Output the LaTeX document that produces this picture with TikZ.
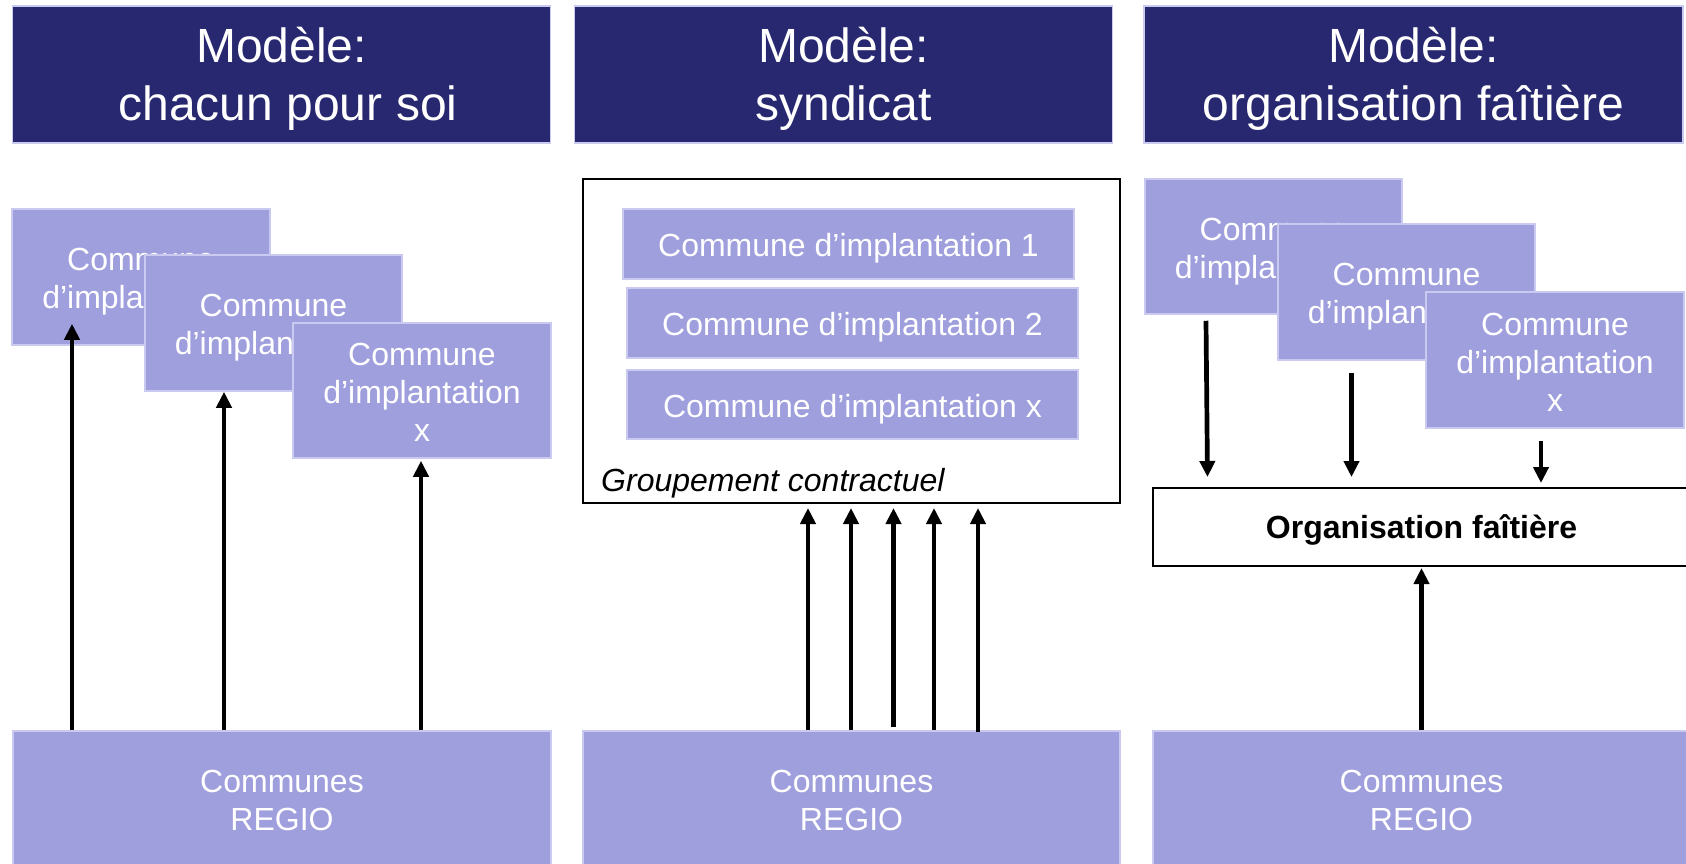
\documentclass[tikz,border=0pt]{standalone}
\usepackage{fontspec}
\setmainfont{Liberation Sans}
\usetikzlibrary{arrows.meta}
\definecolor{navy}{RGB}{40,40,112}
\definecolor{lav}{RGB}{159,159,222}
\definecolor{lavline}{RGB}{202,202,240}
\newcommand{\liftline}[1][32pt]{\rule{0pt}{#1}}
\tikzset{
    head/.style =   {rectangle,
                    fill=navy,
                    draw=lavline,
                    text=white,
                    line width=1.5pt,
                    inner sep=0pt,
                    align=center,
                    font=\fontsize{48}{58}\selectfont},
    commune/.style = {rectangle,
                    fill=lav,
                    draw=lavline,
                    text=white,
                    line width=1.5pt,
                    inner sep=0pt,
                    align=center,
                    font=\fontsize{32}{38}\selectfont},
    frame/.style =  {rectangle,
                    fill=white,
                    draw=black,
                    text=black,
                    line width=2pt,
                    inner sep=0pt,
                    font=\fontsize{32}{38}\selectfont},
    -,
    arr/.style =    {-{Triangle[width=15pt,length=16pt]},
                    line width=4.7pt,
                    draw=black},
    >=Triangle}

\begin{document}
\begin{tikzpicture}[x=1pt,y=-1pt]
        \useasboundingbox (0,0) rectangle (1686,863);

        % headers
        \node[head]     (hA) [minimum width=538pt,minimum height=137pt] at (281.5,74.5)  {\liftline[44pt]Modèle:\\\hspace*{13pt}chacun pour soi};
        \node[head]     (hB) [minimum width=538pt,minimum height=137pt] at (843.5,74.5)  {\liftline[44pt]Modèle:\\syndicat};
        \node[head]     (hC) [minimum width=539pt,minimum height=137pt] at (1413.5,74.5) {\liftline[44pt]Modèle:\\organisation faîtière};

        % chacun pour soi
        \node[commune]  (c1a) [minimum width=258pt,minimum height=136pt] at (141,277)     {\liftline Commune\\d’implantation};
        \node[commune]  (c1b) [minimum width=257pt,minimum height=136pt] at (273.5,323)   {\liftline Commune\\d’implantation};
        \node[commune]  (c1c) [minimum width=258pt,minimum height=135pt] at (422,390.5)   {\liftline[26pt]Commune\\d’implantation\\x};
        \node[commune]  (regioA) [minimum width=538pt,minimum height=138pt] at (282,800) {Communes\\REGIO};

        \draw[arr] ([xshift=-210pt]regioA.north) -- ([xshift=-69pt,yshift=22pt]c1a.south);
        \draw[arr] ([xshift=-58pt]regioA.north)  -- ([xshift=-49.5pt]c1b.south);
        \draw[arr] ([xshift=139pt]regioA.north)  -- ([xshift=-1pt,yshift=-2pt]c1c.south);

        % syndicat
        \node[frame]    (groupB) [minimum width=537pt,minimum height=324pt] at (851.5,341) {};
        \node[commune]  (i1) [minimum width=451pt,minimum height=70pt] at (848.5,244)   {\liftline Commune d’implantation 1};
        \node[commune]  (i2) [minimum width=451pt,minimum height=70pt] at (852.5,323)   {\liftline Commune d’implantation 2};
        \node[commune]  (ix) [minimum width=451pt,minimum height=69pt] at (852.5,404.5) {\liftline Commune d’implantation x};
        \node[anchor=west,font=\fontsize{32}{38}\selectfont\itshape,inner sep=0pt] (grpLabel) at (601,483) {Groupement contractuel};
        \node[commune]  (regioB) [minimum width=537pt,minimum height=138pt] at (851.5,800) {Communes\\REGIO};

        \foreach \dx/\dy in {-43.5/0, -0.5/0, 42/3, 82.5/0, 126.5/-2}
            \draw[arr] ([xshift=\dx pt,yshift=\dy pt]regioB.north) -- ([xshift=\dx pt,yshift=-4pt]groupB.south);

        % organisation faitiere
        \node[commune]  (c3a) [minimum width=257pt,minimum height=135pt] at (1273.5,246.5) {\liftline Commune\\d’implantation};
        \node[commune]  (c3b) [minimum width=257pt,minimum height=136pt] at (1406.5,292)   {\liftline Commune\\d’implantation};
        \node[commune]  (c3c) [minimum width=258pt,minimum height=136pt] at (1555,360)     {\liftline[26pt]Commune\\d’implantation\\x};
        \node[frame]    (orgC) [minimum width=537pt,minimum height=78pt] at (1421.5,527) {\liftline[30pt]\bfseries Organisation faîtière};
        \node[commune]  (regioC) [minimum width=537pt,minimum height=138pt] at (1421.5,800) {Communes\\REGIO};

        \draw[arr] ([xshift=-67.5pt,yshift=-6pt]c3a.south) -- ([xshift=-214pt,yshift=10pt]orgC.north);
        \draw[arr] ([xshift=-55pt,yshift=-12pt]c3b.south)  -- ([xshift=-70pt,yshift=10pt]orgC.north);
        \draw[arr] ([xshift=-14pt,yshift=-12pt]c3c.south)  -- ([xshift=119.5pt,yshift=4pt]orgC.north);
        \draw[arr] (regioC.north) -- ([yshift=-1pt]orgC.south);
\end{tikzpicture}
\end{document}
